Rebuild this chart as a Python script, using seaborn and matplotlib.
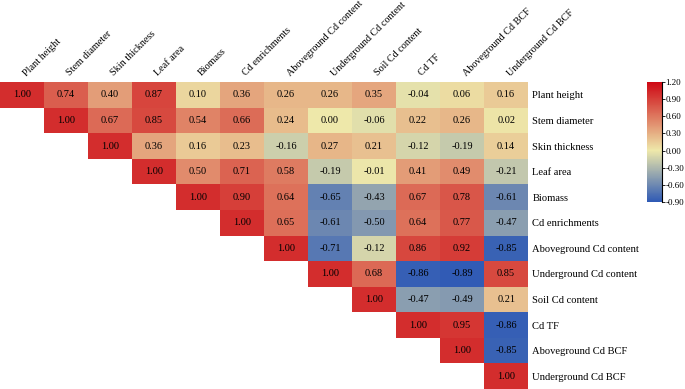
import numpy as np
import pandas as pd
import seaborn as sns
import matplotlib.pyplot as plt
import matplotlib.transforms as mtransforms
from matplotlib.colors import LinearSegmentedColormap

labels = ['Plant height', 'Stem diameter', 'Skin thickness', 'Leaf area', 'Biomass',
          'Cd enrichments', 'Aboveground Cd content', 'Underground Cd content',
          'Soil Cd content', 'Cd TF', 'Aboveground Cd BCF', 'Underground Cd BCF']

# upper triangle, row by row (diagonal first)
r_plant = [1.00, 0.74, 0.40, 0.87, 0.10, 0.36, 0.26, 0.26, 0.35, -0.04, 0.06, 0.16]
r_stem = [1.00, 0.67, 0.85, 0.54, 0.66, 0.24, 0.00, -0.06, 0.22, 0.26, 0.02]
r_skin = [1.00, 0.36, 0.16, 0.23, -0.16, 0.27, 0.21, -0.12, -0.19, 0.14]
r_leaf = [1.00, 0.50, 0.71, 0.58, -0.19, -0.01, 0.41, 0.49, -0.21]
r_biomass = [1.00, 0.90, 0.64, -0.65, -0.43, 0.67, 0.78, -0.61]
r_cdenr = [1.00, 0.65, -0.61, -0.50, 0.64, 0.77, -0.47]
r_above = [1.00, -0.71, -0.12, 0.86, 0.92, -0.85]
r_under = [1.00, 0.68, -0.86, -0.89, 0.85]
r_soil = [1.00, -0.47, -0.49, 0.21]
r_tf = [1.00, 0.95, -0.86]
r_abcf = [1.00, -0.85]
r_ubcf = [1.00]

cbar_ticks = [-0.90, -0.60, -0.30, 0.00, 0.30, 0.60, 0.90, 1.20]

rows = [r_plant, r_stem, r_skin, r_leaf, r_biomass, r_cdenr,
        r_above, r_under, r_soil, r_tf, r_abcf, r_ubcf]

n = len(labels)
mat = np.full((n, n), np.nan)
for i, r in enumerate(rows):
    mat[i, i:] = r
df = pd.DataFrame(mat, index=labels, columns=labels)
mask = np.tril(np.ones((n, n), dtype=bool), k=-1)

vmin, vmax = -0.9, 1.2
mid = (0 - vmin) / (vmax - vmin)
cmap = LinearSegmentedColormap.from_list(
    'cd', [(0, '#2f5ab5'), (mid, '#eee8aa'), (1, '#ce0814')])

plt.rcParams['font.family'] = ['Liberation Serif', 'DejaVu Serif']
plt.rcParams['axes.unicode_minus'] = False

fig = plt.figure(figsize=(6.85, 3.89), dpi=100)
ax = fig.add_axes([0.0, 0.0, 0.771, 0.789])
cax = fig.add_axes([0.945, 0.481, 0.021, 0.308])

sns.heatmap(df, mask=mask, cmap=cmap, vmin=vmin, vmax=vmax, annot=True, fmt='.2f',
            annot_kws={'fontsize': 7.5, 'color': 'black'}, linewidths=0,
            cbar_ax=cax, ax=ax, cbar_kws={'ticks': cbar_ticks})

ax.xaxis.tick_top()
ax.yaxis.tick_right()
ax.tick_params(length=0, pad=3)
ax.set_xticklabels(labels, rotation=45, ha='left', rotation_mode='anchor', fontsize=7.3)
ax.set_yticklabels(labels, rotation=0, fontsize=7.6)
ax.set_xlabel('')
ax.set_ylabel('')

# nudge the slanted top labels a little to the right
shift = mtransforms.ScaledTranslation(4 / 72, 0, fig.dpi_scale_trans)
for lab in ax.get_xticklabels():
    lab.set_transform(lab.get_transform() + shift)

cax.set_yticks(cbar_ticks)
cax.set_yticklabels([f'{v:.2f}' for v in cbar_ticks])
cax.tick_params(labelsize=6.5, length=2, width=0.6, pad=0.5)
cax.spines['right'].set_visible(True)
cax.spines['right'].set_linewidth(0.8)

fig.savefig('out.png', dpi=100)
